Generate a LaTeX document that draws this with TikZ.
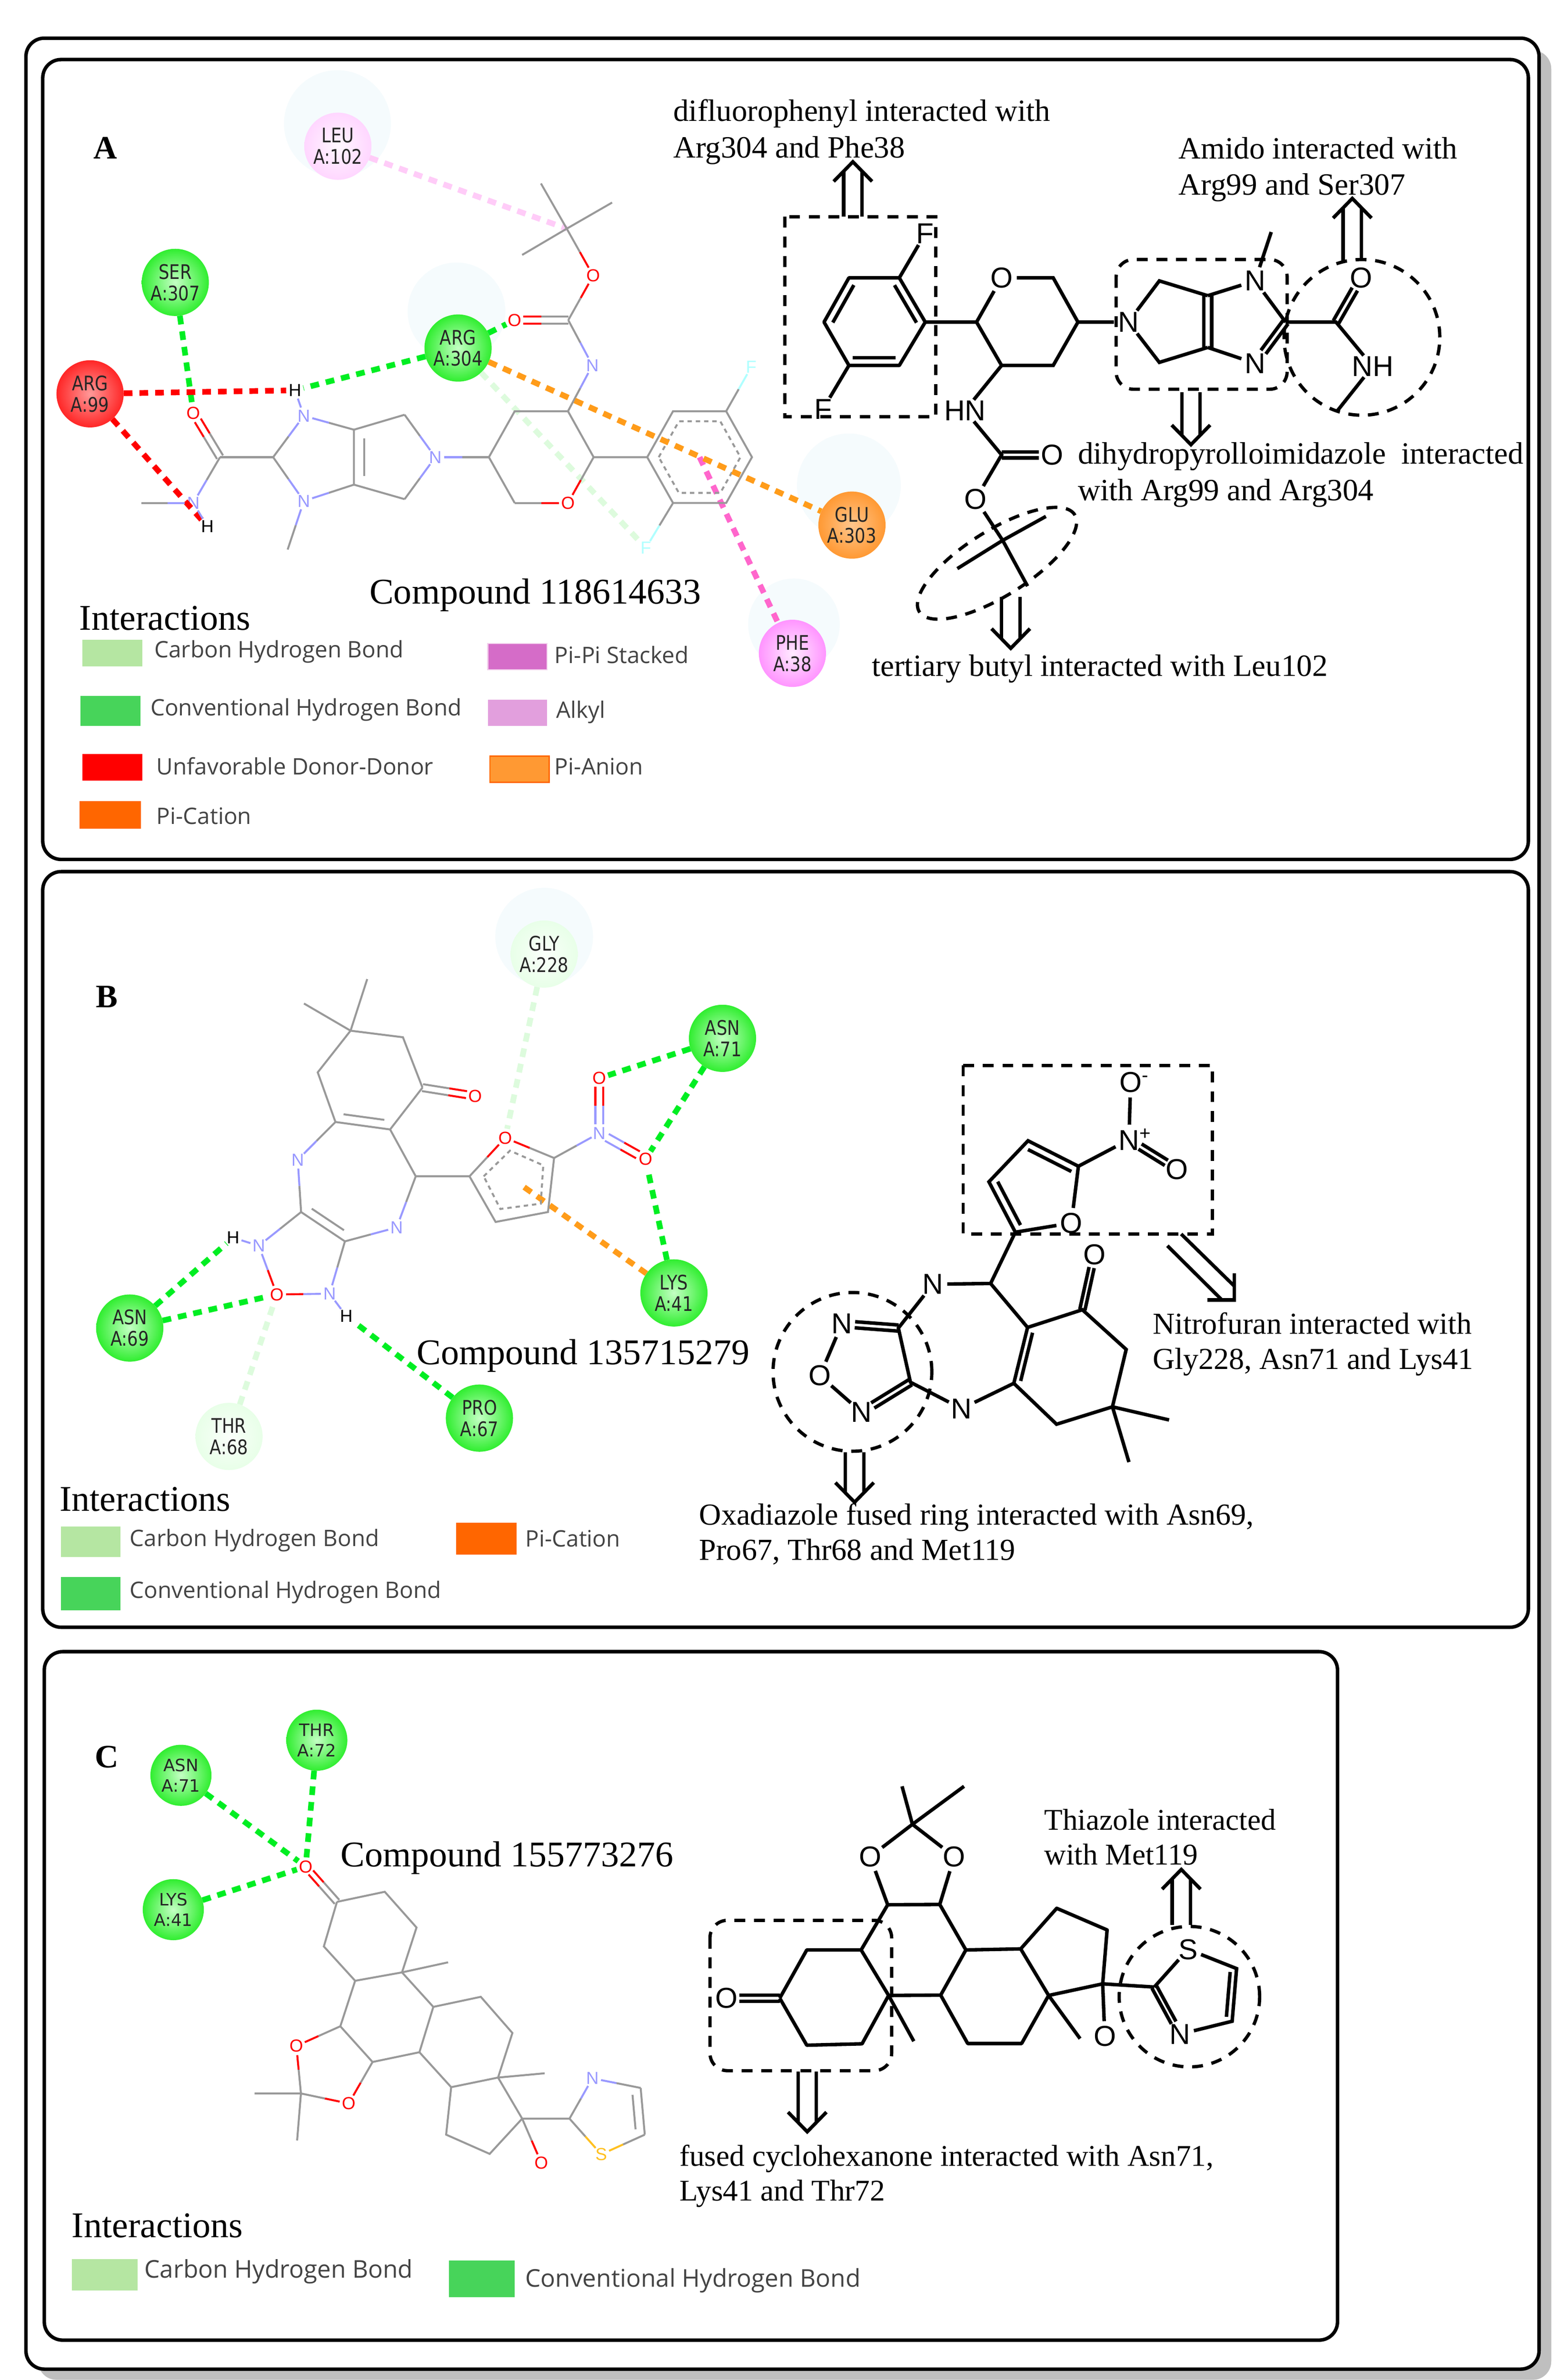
\documentclass[tikz,border=0pt]{standalone}
\usepackage{fontspec}
\setmainfont{Liberation Serif}
\newfontfamily\arialf{Liberation Sans}
\newfontfamily\dejav{DejaVu Sans}
\newfontfamily\dejan[FakeStretch=0.84]{DejaVu Sans}
\newfontfamily\legf{Open Sans}
\usetikzlibrary{calc,shapes.geometric}
\definecolor{gbc}{HTML}{999999}
\definecolor{oxc}{HTML}{FF0000}
\definecolor{nic}{HTML}{9999FF}
\definecolor{suc}{HTML}{FFC020}
\definecolor{flc}{HTML}{B0FFFF}
\definecolor{haloc}{HTML}{F5FBFD}
\definecolor{ihb}{HTML}{00EE22}
\definecolor{ich}{HTML}{DDFBDD}
\definecolor{ior}{HTML}{FF9C1A}
\definecolor{ipk}{HTML}{FF66CC}
\definecolor{ilp}{HTML}{FFCCF8}
\definecolor{legt}{HTML}{444444}
\definecolor{swch}{HTML}{B5E6A2}
\definecolor{swhb}{HTML}{47D45A}
\definecolor{swpc}{HTML}{FF6600}
\definecolor{swpp}{HTML}{D56CC8}
\definecolor{swppb}{HTML}{F2CEEC}
\definecolor{swal}{HTML}{E29FDD}
\definecolor{swpa}{HTML}{FF9933}
\definecolor{rgI}{HTML}{C4FFC4}
\definecolor{rgO}{HTML}{30EE30}
\tikzset{
 frame/.style={draw=black,line width=8pt,rounded corners=42pt},
 gb/.style={draw=gbc,line width=4.5pt},
 kb/.style={draw=black,line width=8pt},
 dashk/.style={draw=black,line width=7.5pt,dash pattern=on 25pt off 20pt},
 idash/.style={line width=13pt,dash pattern=on 20pt off 16pt},
 res/.style={circle,inner sep=0,minimum size=154pt,align=center,text=black!85,font=\dejan\fontsize{46}{49}\selectfont,shade},
 resg/.style={res,inner color=rgI,outer color=rgO},
 resr/.style={res,inner color=red!40!white,outer color=red!85!white},
 resp/.style={res,inner color=magenta!8!white,outer color=magenta!42!white},
 reslp/.style={res,inner color=magenta!3!white,outer color=magenta!16!white},
 reso/.style={res,inner color=orange!45!white,outer color=orange!80!white},
 reslg/.style={res,inner color=green!2!white,outer color=green!9!white},
 gat/.style={circle,inner sep=0pt,font=\arialf\fontsize{40}{40}\selectfont},
 gOx/.style={gat,text=oxc},
 gNi/.style={gat,text=nic},
 gSu/.style={gat,text=suc},
 gFl/.style={gat,text=flc},
 gHy/.style={gat,text=black},
 kat/.style={circle,inner sep=0pt,font=\arialf\fontsize{66}{66}\selectfont},
 kwide/.style={rectangle,inner sep=2pt,font=\arialf\fontsize{66}{66}\selectfont},
 txa/.style={anchor=west,inner sep=0,align=left,font=\fontsize{71}{84}\selectfont},
 txb/.style={anchor=west,inner sep=0,align=left,font=\fontsize{70}{81}\selectfont},
 txc/.style={anchor=west,inner sep=0,align=left,font=\fontsize{69}{80}\selectfont},
 cpd/.style={anchor=west,inner sep=0,font=\fontsize{83}{83}\selectfont},
 pan/.style={inner sep=0,font=\bfseries\fontsize{75}{75}\selectfont},
 leg/.style={anchor=west,inner sep=0,text=legt,font=\legf\fontsize{52}{52}\selectfont},
 dcirc/.style={circle,inner sep=0,dashk},
}
\newcommand\hb[4]{\draw[gb,draw=#3] (#1) -- ($(#1)!.5!(#2)$); \draw[gb,draw=#4] ($(#1)!.5!(#2)$) -- (#2);}
\newcommand\pl[6][kb]{\draw[#1,shorten <=#5,shorten >=#6] ($(#2)!#4!90:(#3)$) -- ($(#3)!#4!-90:(#2)$);}
\newcommand\hpl[7]{\coordinate (tA) at ($(#1)!#3!90:(#2)$); \coordinate (tB) at ($(#2)!#3!-90:(#1)$); \coordinate (tM) at ($(tA)!.5!(tB)$);
 \draw[gb,draw=#4,shorten <=#6] (tA) -- (tM); \draw[gb,draw=#5,shorten >=#7] (tM) -- (tB);}
\newcommand\hdb[7]{\hpl{#1}{#2}{#3}{#4}{#5}{#6}{#7}\hpl{#1}{#2}{-#3}{#4}{#5}{#6}{#7}}
\newcommand\kdb[5]{\pl{#1}{#2}{#3}{#4}{#5}\pl{#1}{#2}{-#3}{#4}{#5}}
% double-shafted open arrow: tail, tip
\newcommand\darr[2]{\coordinate (dT) at (#1); \coordinate (dH) at (#2);
 \coordinate (dB) at ($(dH)!45pt!(dT)$); \coordinate (dS) at ($(dH)!23pt!(dT)$);
 \draw[kb] ($(dB)!44pt!90:(dH)$) -- (dH) -- ($(dB)!-44pt!90:(dH)$);
 \draw[kb] ($(dT)!21pt!90:(dH)$) -- ($(dS)!-21pt!90:(dT)$);
 \draw[kb] ($(dT)!-21pt!90:(dH)$) -- ($(dS)!21pt!90:(dT)$);}
\begin{document}
\begin{tikzpicture}[x=3.5pt,y=-3.5pt]
\useasboundingbox (0,0) rectangle (1024.29,1559.14);
\fill[white] (0,0) rectangle (1024.29,1559.14);
% frames
\fill[black!25,rounded corners=42pt] (25,33) rectangle (1016,1559);
\draw[frame,fill=white] (17,25) rectangle (1008,1552);
\draw[frame] (28,39) rectangle (1001,563);
\draw[frame] (28,571) rectangle (1001,1066);
\draw[frame] (29,1082) rectangle (876,1533);
% halos
\fill[haloc] (221,81) circle[radius=35];
\fill[haloc] (299,204) circle[radius=32];
\fill[haloc] (556,318) circle[radius=34];
\fill[haloc] (520,409) circle[radius=30];
\fill[haloc] (356.4,613.6) circle[radius=32];
% ------------ panel A left
\node[pan] (lA) at (69,97) {A};
\node[reslp] (rLEU) at (221.3,95.8) {LEU\\A:102};
\node[resg] (rSER) at (114.8,185) {SER\\A:307};
\node[resr] (rARGa) at (59,258) {ARG\\A:99};
\node[resg] (rARGb) at (300,228) {ARG\\A:304};
\node[reso] (rGLU) at (558,344) {GLU\\A:303};
\node[resp] (rPHE) at (519,428) {PHE\\A:38};
\coordinate (aT) at (371.2,149.8);
\coordinate (aM1) at (354.3,120.2);
\coordinate (aM2) at (400.9,132.7);
\coordinate (aM3) at (342,167);
\node[gOx] (aO1) at (388.5,180.6) {O};
\coordinate (aC1) at (372.2,209.7);
\node[gOx] (aO2) at (337,209.7) {O};
\node[gNi] (aN1) at (388,239.3) {N};
\coordinate (aR1) at (372,269.4);
\coordinate (aR2) at (337.1,269.4);
\coordinate (aR3) at (320.2,299.5);
\coordinate (aR4) at (337.1,329.5);
\node[gOx] (aO3) at (372,329.5) {O};
\coordinate (aR6) at (388.8,299.5);
\coordinate (aA1) at (423.9,299.5);
\coordinate (aA2) at (440.8,269.4);
\coordinate (aA3) at (475.6,269.4);
\coordinate (aA4) at (492.5,299.5);
\coordinate (aA5) at (475.6,329.5);
\coordinate (aA6) at (440.8,329.5);
\coordinate (aAc) at (458.2,299.5);
\node[gFl] (aF1) at (492,240.5) {F};
\node[gFl] (aF2) at (423,359) {F};
\node[gNi] (aN2) at (285.1,299.5) {N};
\coordinate (aP1) at (265,271.7);
\coordinate (aP2) at (265,327);
\coordinate (aQ1) at (231.8,281.5);
\coordinate (aQ2) at (231.8,317.5);
\node[gNi] (aN3) at (199,272.4) {N};
\node[gNi] (aN4) at (199,328.2) {N};
\coordinate (aC2) at (178.9,299.5);
\coordinate (aC3) at (144.1,299.5);
\node[gOx] (aO4) at (126.6,270.5) {O};
\node[gNi] (aN5) at (126.6,329.5) {N};
\coordinate (aMe) at (92.7,329.5);
\node[gHy] (aH1) at (135.8,344.8) {H};
\node[gHy] (aH2) at (193.2,255.7) {H};
\coordinate (aMe2) at (188.4,360);
% interaction lines A
\draw[idash,draw=ilp] (rLEU) -- (aT);
\draw[idash,draw=ihb] (rSER) -- (aO4);
\draw[idash,draw=oxc] (rARGa) -- (aH2);
\draw[idash,draw=oxc] (rARGa) -- (aH1);
\draw[idash,draw=ihb] (rARGb) -- (aH2);
\draw[idash,draw=ihb] (rARGb) -- (aO2);
\draw[idash,draw=ich] (rARGb) -- (aF2);
\draw[idash,draw=ipk] (aAc) -- (rPHE);
\draw[gb] (aM1) -- (aT) (aM2) -- (aT) (aM3) -- (aT);
\hb{aT}{aO1}{gbc}{oxc}
\hb{aO1}{aC1}{oxc}{gbc}
\hdb{aC1}{aO2}{8pt}{gbc}{oxc}{0pt}{20pt}
\hb{aC1}{aN1}{gbc}{nic}
\hb{aN1}{aR1}{nic}{gbc}
\draw[gb] (aR1) -- (aR2) -- (aR3) -- (aR4);
\hb{aR4}{aO3}{gbc}{oxc}
\hb{aO3}{aR6}{oxc}{gbc}
\draw[gb] (aR6) -- (aR1) (aR6) -- (aA1);
\draw[gb] (aA1) -- (aA2) -- (aA3) -- (aA4) -- (aA5) -- (aA6) -- cycle;
\draw[gb,dash pattern=on 10pt off 9pt] ($(aAc)!.78!(aA1)$) -- ($(aAc)!.78!(aA2)$) -- ($(aAc)!.78!(aA3)$) -- ($(aAc)!.78!(aA4)$) -- ($(aAc)!.78!(aA5)$) -- ($(aAc)!.78!(aA6)$) -- cycle;
\hb{aA3}{aF1}{gbc}{flc}
\hb{aA6}{aF2}{gbc}{flc}
\hb{aR3}{aN2}{gbc}{nic}
\hb{aN2}{aP1}{nic}{gbc}
\hb{aN2}{aP2}{nic}{gbc}
\draw[gb] (aP1) -- (aQ1) -- (aQ2) -- (aP2);
\pl[gb]{aQ1}{aQ2}{24pt}{20pt}{20pt}
\hb{aQ1}{aN3}{gbc}{nic}
\hb{aQ2}{aN4}{gbc}{nic}
\hb{aN3}{aC2}{nic}{gbc}
\hb{aN4}{aC2}{nic}{gbc}
\draw[gb] (aC2) -- (aC3);
\hdb{aC3}{aO4}{8pt}{gbc}{oxc}{0pt}{20pt}
\hb{aC3}{aN5}{gbc}{nic}
\hb{aN5}{aMe}{nic}{gbc}
\draw[gb,draw=nic] (aN5) -- (aH1) (aN3) -- (aH2);
\hb{aN4}{aMe2}{nic}{gbc}
\draw[idash,draw=ior] (rARGb) -- (rGLU);
% ------------ panel A right
\node[txa] (tA1) at (441,86.5) {difluorophenyl interacted with\\Arg304 and Phe38};
\node[txa] (tA2) at (772,111) {Amido interacted with\\Arg99 and Ser307};
\node[txa] (tA3) at (706,311) {dihydropyrolloimidazole\ \ interacted\\with Arg99 and Arg304};
\node[txa] (tA4) at (571,438) {tertiary butyl interacted with Leu102};
\coordinate (kA1) at (606,211);
\coordinate (kA2) at (589,182);
\coordinate (kA3) at (556,182);
\coordinate (kA4) at (539.7,211);
\coordinate (kA5) at (556,239.4);
\coordinate (kA6) at (589,239.4);
\node[kat] (kF1) at (606,153) {F};
\node[kat] (kF2) at (539,268) {F};
\coordinate (kP1) at (639.6,211);
\node[kat] (kO1) at (656,182) {O};
\coordinate (kP3) at (689.8,182);
\coordinate (kP4) at (706,211);
\coordinate (kP5) at (689.8,239.4);
\coordinate (kP6) at (656,239.4);
\node[kat] (kN1) at (739,211) {N};
\coordinate (kU1) at (759.3,184);
\coordinate (kU2) at (759.3,237.4);
\coordinate (kV1) at (791,193.7);
\coordinate (kV2) at (791,227.6);
\node[kat] (kN2) at (822,184) {N};
\node[kat] (kN3) at (822,238) {N};
\coordinate (kC1) at (842,211);
\coordinate (kMe1) at (832.6,152);
\coordinate (kC2) at (875,211);
\node[kat] (kO2) at (891.6,182) {O};
\node[kwide] (kNH) at (899,240) {NH};
\coordinate (kMe2) at (876,269);
\node[kwide] (kHN) at (632,269) {HN};
\coordinate (kC3) at (656,298);
\node[kat] (kO3) at (689,298) {O};
\node[kat] (kO4) at (639,327) {O};
\coordinate (kT) at (656.7,354);
\coordinate (kT1) at (685,338.3);
\coordinate (kT2) at (627,372.5);
\coordinate (kT3) at (673,384);
\draw[kb,line join=round] (kA1) -- (kA2) -- (kA3) -- (kA4) -- (kA5) -- (kA6) -- cycle;
\pl{kA2}{kA1}{-18pt}{9pt}{9pt}
\pl{kA6}{kA5}{-18pt}{9pt}{9pt}
\pl{kA4}{kA3}{-18pt}{9pt}{9pt}
\draw[kb] (kA2) -- (kF1) (kA5) -- (kF2) (kA1) -- (kP1) -- (kO1) -- (kP3) -- (kP4) -- (kP5) -- (kP6) -- (kP1);
\draw[kb] (kP4) -- (kN1) -- (kU1) -- (kV1) (kN1) -- (kU2) -- (kV2);
\kdb{kV1}{kV2}{9pt}{0pt}{0pt}
\draw[kb] (kV1) -- (kN2) (kV2) -- (kN3) (kN2) -- (kC1) (kN2) -- (kMe1) (kC1) -- (kC2) -- (kNH) -- (kMe2);
\kdb{kN3}{kC1}{7pt}{32pt}{0pt}
\kdb{kC2}{kO2}{7pt}{0pt}{30pt}
\draw[kb] (kP6) -- (kHN) -- (kC3) -- (kO4) -- (kT) (kT) -- (kT1) (kT) -- (kT2) (kT) -- (kT3);
\kdb{kC3}{kO3}{7pt}{0pt}{30pt}
\draw[dashk] (514,142) rectangle (613,273);
\draw[dashk,rounded corners=40pt] (731,170) rectangle (843,255);
\node[dcirc,minimum size=357pt] (kCirc) at (892,221) {};
\node[ellipse,inner sep=0,dashk,minimum width=420pt,minimum height=150pt,rotate=32] (kEll) at (653,369) {};
\darr{558.6,142}{558.6,106}
\darr{885.7,171}{885.7,130}
\darr{780,257}{780,291.3}
\darr{662,391}{662,424.7}
% legend A
\node[cpd] (cA) at (242,390) {Compound 118614633};
\node[cpd] (iA) at (52,405) {Interactions};
\fill[swch] (53.9,419.2) rectangle (93.2,436.5);
\fill[swhb] (52.6,456) rectangle (91.9,475.6);
\fill[oxc] (53.9,494) rectangle (93.2,511.4);
\filldraw[fill=swpc,draw=swpc,line width=3pt] (52.6,525.3) rectangle (91.9,542.5);
\filldraw[fill=swpp,draw=swppb,line width=3pt] (319.5,421.6) rectangle (358.3,438.7);
\fill[swal] (319.5,458.4) rectangle (358.3,475.6);
\filldraw[fill=swpa,draw=swpc,line width=3pt] (320.9,495.4) rectangle (359.6,512.6);
\node[leg] (l1) at (101,427) {Carbon Hydrogen Bond};
\node[leg] (l2) at (98.5,465) {Conventional Hydrogen Bond};
\node[leg] (l3) at (102.4,502) {Unfavorable Donor-Donor};
\node[leg] (l4) at (102.4,534.5) {Pi-Cation};
\node[leg] (l5) at (363.2,429) {Pi-Pi Stacked};
\node[leg] (l6) at (364.2,466.5) {Alkyl};
\node[leg] (l7) at (363.2,502) {Pi-Anion};
% ------------ panel B left
\node[pan] (lB) at (70,653) {B};
\node[reslg] (rGLY) at (356.4,625) {GLY\\A:228};
\node[resg] (rASNa) at (473.2,680.2) {ASN\\A:71};
\node[resg] (rLYS) at (441.4,847) {LYS\\A:41};
\node[resg] (rASNb) at (85,870) {ASN\\A:69};
\node[resg] (rPRO) at (314,929) {PRO\\A:67};
\node[reslg] (rTHR) at (150,941) {THR\\A:68};
\coordinate (bG) at (229.6,675.2);
\coordinate (bM1) at (240.5,641.4);
\coordinate (bM2) at (199.1,657.4);
\coordinate (bC1) at (263.9,679.5);
\coordinate (bC2) at (276.7,712.5);
\node[gOx] (bO1) at (311.2,718) {O};
\coordinate (bC3) at (208.1,702.5);
\coordinate (bC4) at (219.7,735);
\coordinate (bC5) at (255.5,739.9);
\coordinate (bC6) at (272.3,770.6);
\node[gNi] (bN1) at (195,759.8) {N};
\coordinate (bC7) at (197.2,794);
\node[gNi] (bN2) at (259.8,804.1) {N};
\coordinate (bC8) at (225.9,813.2);
\node[gNi] (bN3) at (169.5,816.1) {N};
\node[gHy] (bH1) at (152.7,810.8) {H};
\node[gOx] (bO2) at (181.3,848) {O};
\node[gNi] (bN4) at (215.9,847.5) {N};
\node[gHy] (bH2) at (226.8,862.1) {H};
\coordinate (bF1) at (307.5,770.6);
\node[gOx] (bO3) at (330.9,745.4) {O};
\coordinate (bF2) at (362.9,758.6);
\coordinate (bF3) at (358.9,794);
\coordinate (bF4) at (324.6,800.5);
\node[gNi] (bN5) at (392.5,742.3) {N};
\node[gOx] (bO4) at (392.5,706.3) {O};
\node[gOx] (bO5) at (422.8,759.3) {O};
\coordinate (bPi) at (343.3,777.7);
\draw[idash,draw=ich] (rGLY) -- (bO3);
\draw[idash,draw=ich] (rTHR) -- (bO2);
\draw[idash,draw=ihb] (rASNa) -- (bO4);
\draw[idash,draw=ihb] (rASNa) -- (bO5);
\draw[idash,draw=ihb] (rLYS) -- (bO5);
\draw[idash,draw=ihb] (rASNb) -- (bH1);
\draw[idash,draw=ihb] (rASNb) -- (bO2);
\draw[idash,draw=ihb] (rPRO) -- (bH2);
\draw[idash,draw=ior] (bPi) -- (rLYS);
\draw[gb] (bM1) -- (bG) (bM2) -- (bG) (bC2) -- (bC1) -- (bG) -- (bC3) -- (bC4) -- (bC5) -- (bC2) (bC5) -- (bC6) -- (bF1);
\pl[gb]{bC4}{bC5}{20pt}{16pt}{16pt}
\hdb{bC2}{bO1}{8pt}{gbc}{oxc}{0pt}{20pt}
\hb{bC4}{bN1}{gbc}{nic}
\hb{bN1}{bC7}{nic}{gbc}
\hb{bC7}{bN3}{gbc}{nic}
\draw[gb] (bC7) -- (bC8);
\pl[gb]{bC7}{bC8}{20pt}{16pt}{16pt}
\hb{bC8}{bN2}{gbc}{nic}
\hb{bN2}{bC6}{nic}{gbc}
\hb{bC8}{bN4}{gbc}{nic}
\hb{bN4}{bO2}{nic}{oxc}
\hb{bN3}{bO2}{nic}{oxc}
\draw[gb,draw=nic] (bN3) -- (bH1) (bN4) -- (bH2);
\hb{bF1}{bO3}{gbc}{oxc}
\hb{bO3}{bF2}{oxc}{gbc}
\draw[gb] (bF2) -- (bF3) -- (bF4) -- (bF1);
\draw[gb,dash pattern=on 10pt off 9pt] (316.8,770.6) -- (334,753.8) -- (355.8,763.4) -- (354.2,788.5) -- (327.7,792) -- cycle;
\hb{bF2}{bN5}{gbc}{nic}
\hdb{bN5}{bO4}{9pt}{nic}{oxc}{20pt}{20pt}
\hdb{bN5}{bO5}{9pt}{nic}{oxc}{20pt}{20pt}
\node[cpd] (cB) at (273,888) {Compound 135715279};
\node[cpd] (iB) at (39,982) {Interactions};
\fill[swch] (40,1000) rectangle (79,1020);
\fill[swhb] (40,1033) rectangle (79,1055);
\filldraw[fill=swpc,draw=swpc,line width=3pt] (299,998) rectangle (338,1018);
\node[leg] (l8) at (85,1009) {Carbon Hydrogen Bond};
\node[leg] (l9) at (85,1043) {Conventional Hydrogen Bond};
\node[leg] (l10) at (344,1008) {Pi-Cation};
% ------------ panel B right
\node[txb] (tB1) at (755,880.5) {Nitrofuran interacted with\\Gly228, Asn71 and Lys41};
\node[txb] (tB2) at (458,1005) {Oxadiazole fused ring interacted with Asn69,\\Pro67, Thr68 and Met119};
\node[kat] (mOa) at (740.5,709) {O\rlap{\raisebox{24pt}{\fontsize{44}{44}\selectfont -}}};
\node[kat] (mN1) at (739.4,746.6) {N\rlap{\raisebox{24pt}{\fontsize{44}{44}\selectfont +}}};
\node[kat] (mOb) at (770.7,766) {O};
\coordinate (mF1) at (706.3,764);
\coordinate (mF2) at (673.3,747.3);
\coordinate (mF3) at (647.7,774.2);
\coordinate (mF4) at (665,807.2);
\node[kat] (mO1) at (701.7,801.2) {O};
\coordinate (mCH) at (648.8,840.8);
\node[kat] (mN2) at (611,841.3) {N};
\coordinate (mC1) at (588.4,870);
\node[kat] (mN3) at (551.4,867.2) {N};
\node[kat] (mO2) at (537,901.2) {O};
\node[kat] (mN4) at (564.3,925.2) {N};
\coordinate (mC2) at (596.3,905.5);
\node[kat] (mN5) at (629.8,922.8) {N};
\coordinate (mC3) at (664,906.2);
\coordinate (mC4) at (673,869.6);
\coordinate (mC5) at (708.9,858);
\node[kat] (mO3) at (716.8,822) {O};
\coordinate (mC6) at (737.6,884);
\coordinate (mC7) at (728.6,921.6);
\coordinate (mC8) at (692,933);
\coordinate (mMe1) at (765.7,930.2);
\coordinate (mMe2) at (739.4,957.8);
\draw[kb] (mOa) -- (mN1) (mN1) -- (mF1) (mF1) -- (mF2) -- (mF3) -- (mF4) -- (mO1) -- (mF1);
\kdb{mN1}{mOb}{7pt}{30pt}{28pt}
\pl{mF1}{mF2}{18pt}{9pt}{9pt}
\pl{mF3}{mF4}{18pt}{9pt}{9pt}
\draw[kb] (mF4) -- (mCH) -- (mN2) -- (mC1) -- (mC2) -- (mN5) -- (mC3) -- (mC4) -- (mCH) (mC4) -- (mC5) -- (mC6) -- (mC7) -- (mC8) -- (mC3) (mC7) -- (mMe1) (mC7) -- (mMe2);
\kdb{mC1}{mN3}{7pt}{0pt}{30pt}
\draw[kb] (mN3) -- (mO2) -- (mN4);
\kdb{mN4}{mC2}{7pt}{30pt}{0pt}
\pl{mC3}{mC4}{-14pt}{9pt}{9pt}
\kdb{mC5}{mO3}{6pt}{0pt}{30pt}
\draw[dashk] (630.8,698) rectangle (794,808.4);
\node[dcirc,minimum size=364pt] (mCirc) at (558.3,898.7) {};
\darr{559.7,951.5}{559.7,984.1}
\draw[kb] (808.4,834) -- (808.4,851.6) -- (790.8,851.6);
\draw[kb] (773.6,808.4) -- (808.4,842.5);
\draw[kb] (764.6,816.1) -- (799.8,851.1);
% ------------ panel C left
\node[pan] (lC) at (70,1151) {C};
\tikzset{resc/.style={resg,minimum size=140pt,font=\dejav\fontsize{39}{47}\selectfont}}
\node[resc] (rTHRc) at (207.5,1140) {THR\\A:72};
\node[resc] (rASNc) at (118.5,1163) {ASN\\A:71};
\node[resc] (rLYSc) at (113.5,1251) {LYS\\A:41};
\node[gOx] (cO1) at (200.2,1222.8) {O};
\coordinate (cC1) at (220.7,1245.9);
\coordinate (cC2) at (252,1239.3);
\coordinate (cC3) at (272.8,1262.7);
\coordinate (cC4) at (263.3,1292.1);
\coordinate (cC5) at (232.6,1297.6);
\coordinate (cC6) at (212.1,1275.1);
\coordinate (cMe1) at (293.5,1285.5);
\coordinate (cC7) at (283.8,1314.7);
\coordinate (cC8) at (314.9,1308.1);
\coordinate (cC9) at (335.6,1331.8);
\coordinate (cC10) at (326.2,1361);
\coordinate (cC11) at (295.5,1367.3);
\coordinate (cC12) at (274.7,1344.4);
\coordinate (cC13) at (222.9,1327.4);
\coordinate (cC14) at (244,1350.8);
\node[gOx] (cO2) at (194.1,1340.3) {O};
\node[gOx] (cO3) at (228.4,1378) {O};
\coordinate (cC15) at (197.1,1371.4);
\coordinate (cMe2) at (166.7,1371.4);
\coordinate (cMe3) at (194.6,1402.2);
\coordinate (cMe4) at (356.7,1358.2);
\coordinate (cC16) at (342,1387.9);
\coordinate (cC17) at (320.7,1411);
\coordinate (cC18) at (292.2,1398.4);
\node[gOx] (cO4) at (354.5,1416.8) {O};
\coordinate (cT1) at (373,1387.9);
\node[gNi] (cN1) at (388,1361.5) {N};
\coordinate (cT2) at (419.6,1367.8);
\coordinate (cT3) at (422.3,1398.4);
\node[gSu] (cS1) at (393.8,1411.3) {S};
\draw[idash,draw=ihb] (rTHRc) -- (cO1);
\draw[idash,draw=ihb] (rASNc) -- (cO1);
\draw[idash,draw=ihb] (rLYSc) -- (cO1);
\hdb{cC1}{cO1}{7pt}{gbc}{oxc}{0pt}{18pt}
\draw[gb] (cC1) -- (cC2) -- (cC3) -- (cC4) -- (cC5) -- (cC6) -- (cC1) (cC4) -- (cMe1) (cC4) -- (cC7) -- (cC8) -- (cC9) -- (cC10) -- (cC11) -- (cC12) -- (cC7);
\draw[gb] (cC5) -- (cC13) -- (cC14) -- (cC12) (cC10) -- (cMe4) (cC10) -- (cC16) -- (cC17) -- (cC18) -- (cC11) (cC16) -- (cT1) (cC15) -- (cMe2) (cC15) -- (cMe3);
\hb{cC13}{cO2}{gbc}{oxc}
\hb{cC14}{cO3}{gbc}{oxc}
\hb{cO2}{cC15}{oxc}{gbc}
\hb{cO3}{cC15}{oxc}{gbc}
\hb{cC16}{cO4}{gbc}{oxc}
\hb{cT1}{cN1}{gbc}{nic}
\hb{cN1}{cT2}{nic}{gbc}
\hb{cT3}{cS1}{gbc}{suc}
\hb{cS1}{cT1}{suc}{gbc}
\draw[gb] (cT2) -- (cT3);
\pl[gb]{cT2}{cT3}{-20pt}{14pt}{14pt}
\node[cpd] (cC) at (223,1217) {Compound 155773276};
\node[cpd] (iC) at (47,1458) {Interactions};
\fill[swch] (47,1480) rectangle (90,1500.6);
\fill[swhb] (294,1481) rectangle (337,1505);
\node[leg,font=\legf\fontsize{56}{56}\selectfont] (l11) at (94.5,1488) {Carbon Hydrogen Bond};
\node[leg,font=\legf\fontsize{56}{56}\selectfont] (l12) at (344,1494) {Conventional Hydrogen Bond};
% ------------ panel C right
\node[txc] (tC1) at (684,1203.5) {Thiazole interacted\\with Met119};
\node[txc] (tC2) at (445,1425.5) {fused cyclohexanone interacted with Asn71,\\Lys41 and Thr72};
\node[kat] (nO1) at (475.7,1309) {O};
\coordinate (nC1) at (510.7,1309);
\coordinate (nC2) at (528.4,1277.4);
\coordinate (nC3) at (564,1277.4);
\coordinate (nC4) at (582,1307.2);
\coordinate (nC5) at (564.6,1338.9);
\coordinate (nC6) at (528.4,1339.8);
\coordinate (nMe1) at (598.5,1337.2);
\coordinate (nC7) at (581.4,1247.8);
\coordinate (nC8) at (615.5,1247.6);
\coordinate (nC9) at (632.6,1277.4);
\coordinate (nC10) at (616.1,1307);
\coordinate (nC11) at (668.5,1276.7);
\coordinate (nC12) at (686.8,1307.2);
\coordinate (nC13) at (669.1,1338.7);
\coordinate (nC14) at (633.8,1338.7);
\coordinate (nMe2) at (707.4,1335.5);
\coordinate (nC15) at (722.2,1299.6);
\coordinate (nC16) at (725.1,1264.3);
\coordinate (nC17) at (692.1,1250.1);
\node[kat] (nO2) at (723.6,1334) {O};
\node[kat] (nO3) at (569.9,1216.3) {O};
\node[kat] (nO4) at (625,1216.3) {O};
\coordinate (nC18) at (597.6,1195.1);
\coordinate (nMe3) at (590.8,1170.2);
\coordinate (nMe4) at (631.4,1170.2);
\coordinate (nT1) at (756,1301.7);
\node[kat] (nS) at (778.1,1277) {S};
\coordinate (nT2) at (809.9,1289.6);
\coordinate (nT3) at (807,1324.1);
\node[kat] (nN) at (772.8,1332.6) {N};
\kdb{nC1}{nO1}{7pt}{0pt}{30pt}
\draw[kb,line join=round] (nC1) -- (nC2) -- (nC3) -- (nC4) -- (nC5) -- (nC6) -- (nC1) (nC3) -- (nC7) -- (nC8) -- (nC9) -- (nC10) -- (nC4) (nC4) -- (nMe1);
\draw[kb,line join=round] (nC9) -- (nC11) -- (nC12) -- (nC13) -- (nC14) -- (nC10) (nC11) -- (nC17) -- (nC16) -- (nC15) -- (nC12) (nC12) -- (nMe2) (nC15) -- (nO2) (nC15) -- (nT1);
\draw[kb] (nC7) -- (nO3) -- (nC18) -- (nO4) -- (nC8) (nC18) -- (nMe3) (nC18) -- (nMe4);
\draw[kb] (nT1) -- (nS) -- (nT2) -- (nT3) -- (nN);
\pl{nT2}{nT3}{-14pt}{9pt}{9pt}
\kdb{nT1}{nN}{6pt}{0pt}{30pt}
\draw[dashk,rounded corners=40pt] (465,1258) rectangle (584,1356.5);
\node[dcirc,minimum size=322pt] (nCirc) at (779,1308) {};
\darr{773.7,1261}{773.7,1224.7}
\darr{528.7,1357}{528.7,1396.5}
\end{tikzpicture}
\end{document}
